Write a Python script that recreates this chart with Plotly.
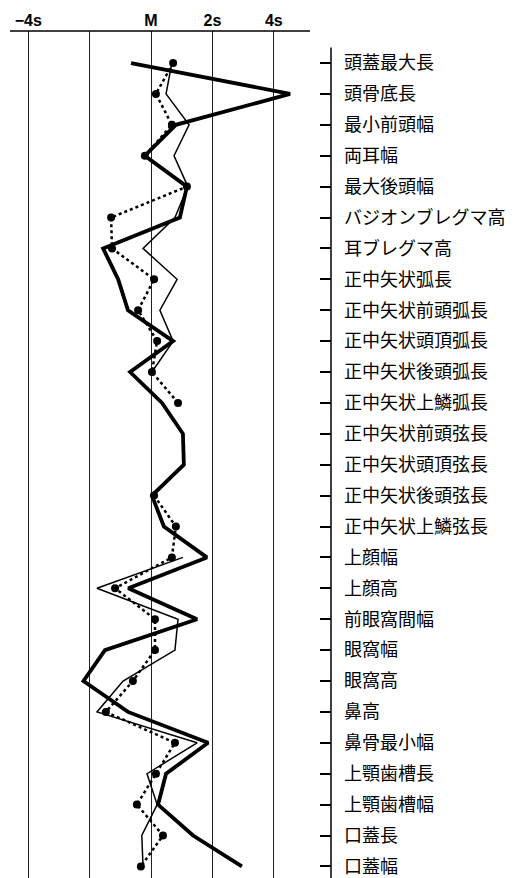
import plotly.graph_objects as go

# Measurements, from top to bottom as in the profile
CATEGORIES = [
    "頭蓋最大長", "頭骨底長", "最小前頭幅", "両耳幅", "最大後頭幅",
    "バジオンブレグマ高", "耳ブレグマ高", "正中矢状弧長", "正中矢状前頭弧長",
    "正中矢状頭頂弧長", "正中矢状後頭弧長", "正中矢状上鱗弧長",
    "正中矢状前頭弦長", "正中矢状頭頂弦長", "正中矢状後頭弦長",
    "正中矢状上鱗弦長", "上顔幅", "上顔高", "前眼窩間幅", "眼窩幅",
    "眼窩高", "鼻高", "鼻骨最小幅", "上顎歯槽長", "上顎歯槽幅",
    "口蓋長", "口蓋幅",
]

# Deviations in units of s from the mean (M)
THICK = [
    -0.65, 4.53, 0.81, -0.2, 1.17, 0.94, -1.56, -1.07, -0.75, 0.72,
    -0.68, 0.36, 1.04, 1.07, 0.03, 0.42, 1.82, -0.74, 1.5, -1.5,
    -2.2, -0.75, 1.86, 0.49, 0.23, 1.37, 2.96,
]
THIN = [
    0.68, 0.49, 1.24, 0.75, 1.2, 0.78, -0.26, 0.85, 0.29, 0.72,
    0.03, None, None, None, None, None, 1.04, -1.76, 0.88, 0.78,
    -0.91, -1.76, 1.5, -0.13, 0.2, -0.3, -0.26,
]
DOTTED = [
    0.72, 0.16, 0.68, -0.2, 1.17, -1.3, -1.27, 0.1, -0.42, 0.2,
    0.03, 0.88, None, None, 0.1, 0.81, 0.68, -1.17, 0.13, 0.13,
    -0.59, -1.47, 0.78, 0.16, -0.46, 0.39, -0.33,
]

TICK_VALS = [-4, -2, 0, 2, 4]
TICK_TEXT = ["<b>−4s</b>", "", "<b>M</b>", "<b>2s</b>", "<b>4s</b>"]

# plot area is 321 px wide at about 30.7 px per s
X_RANGE = [-4.593, 5.863]
Y_RANGE = [26.375, -1.036]

fig = go.Figure()
fig.add_trace(go.Scatter(
    x=THIN, y=CATEGORIES, mode="lines",
    line=dict(color="black", width=1.5), connectgaps=False,
))
fig.add_trace(go.Scatter(
    x=DOTTED, y=CATEGORIES, mode="lines+markers",
    line=dict(color="black", width=2.5, dash="dot"),
    marker=dict(color="black", size=8), connectgaps=False,
))
fig.add_trace(go.Scatter(
    x=THICK, y=CATEGORIES, mode="lines",
    line=dict(color="black", width=3.8),
))

# top axis line (stops short of the right axis)
fig.add_shape(type="line", xref="x", yref="paper",
              x0=X_RANGE[0], x1=5.18, y0=1, y1=1,
              line=dict(color="black", width=1.5))
# right axis line
fig.add_shape(type="line", xref="paper", yref="y",
              x0=1, x1=1, y0=-0.5, y1=Y_RANGE[0],
              line=dict(color="black", width=1.5))

fig.update_xaxes(
    side="top", range=X_RANGE, tickmode="array",
    tickvals=TICK_VALS, ticktext=TICK_TEXT,
    showgrid=True, gridcolor="#222", gridwidth=1,
    zeroline=False, showline=False, ticks="",
    tickfont=dict(family="Liberation Sans", size=16, color="black"),
    ticklabelstandoff=1, automargin=False,
)
fig.update_yaxes(
    type="category", side="right", range=Y_RANGE, autorange=False,
    showgrid=False, zeroline=False, showline=False,
    ticks="inside", ticklen=11, tickwidth=1.5, tickcolor="black",
    tickfont=dict(family="Noto Sans CJK JP", size=18, color="black"),
    ticklabelstandoff=12, automargin=False,
)
# the page body adds an 8 px margin, so the figure is 8 px smaller each way
fig.update_layout(
    width=519, height=870,
    margin=dict(l=2, r=196, t=23, b=0),
    plot_bgcolor="white", paper_bgcolor="white",
    showlegend=False,
)
fig.write_html("out.html")
